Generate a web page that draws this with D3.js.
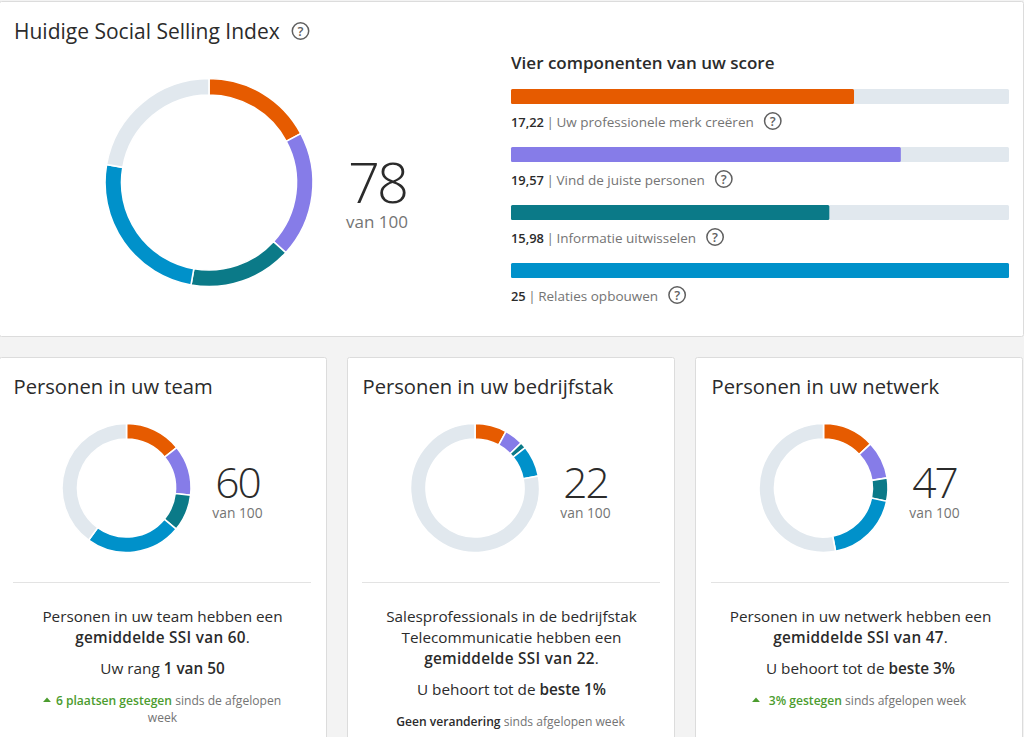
<!DOCTYPE html>
<html><head><meta charset="utf-8">
<script src="https://cdnjs.cloudflare.com/ajax/libs/d3/7.8.5/d3.min.js"></script>
<style>
html,body{margin:0;padding:0;background:#f3f3f3;overflow:hidden}
svg{display:block}
text{font-family:"Open Sans","Noto Sans",sans-serif;fill:#2b2b2b}
.b{font-weight:600}
.g{fill:#747474}
.body .b{letter-spacing:.3px}
</style></head><body>
<svg id="c" width="1024" height="737"></svg>
<script>
const componentNames = ["Uw professionele merk creëren","Vind de juiste personen","Informatie uitwisselen","Relaties opbouwen"];
const componentLabels = ["17,22","19,57","15,98","25"];
const mainValues = [17.22,19.57,15.98,25];
const teamValues = [14.2,12.6,9.2,24];
const industryValues = [8,4.7,1.5,7.8];
const networkValues = [13,9.5,5.8,18.7];
const scores = [78,60,22,47];
const colors = ["#e65b00","#867ce8","#0b7a88","#0091ca"];
const restColor = "#e1e8ee";
const COMPONENT_MAX = 25, TOTAL = 100;

const svg = d3.select("#c");

function card(x,y,w,h){
  svg.append("rect").attr("x",x+.5).attr("y",y+.5).attr("width",w).attr("height",h).attr("rx",2)
    .attr("fill","#fff").attr("stroke","#dcdcdc");
}
function helpIcon(cx,cy){
  const g=svg.append("g").attr("transform",`translate(${cx},${cy})`);
  g.append("circle").attr("r",8.2).attr("fill","none").attr("stroke","#5f5f5f").attr("stroke-width",1.5);
  g.append("text").attr("text-anchor","middle").attr("y",4.6).attr("font-size",13).attr("font-weight",600)
    .style("fill","#5f5f5f").text("?");
}
function donut(cx,cy,rO,rI,vals){
  const data=[...vals.map((v,i)=>({v,c:colors[i]})),{v:TOTAL-d3.sum(vals),c:restColor}];
  const pie=d3.pie().sort(null).value(d=>d.v);
  const arc=d3.arc().outerRadius(rO).innerRadius(rI);
  svg.append("g").attr("transform",`translate(${cx},${cy})`)
    .selectAll("path").data(pie(data)).join("path")
    .attr("d",arc).attr("fill",d=>d.data.c).attr("stroke","#fff").attr("stroke-width",1.6);
}
function rich(x,y,size,parts,anchor="middle"){
  const t=svg.append("text").attr("x",x).attr("y",y).attr("font-size",size).attr("text-anchor",anchor);
  parts.forEach(p=>{
    const s=t.append("tspan").text(p[0]);
    if(p[1]) s.attr("class",p[1]);
    if(p[2]) s.style("fill",p[2]);
  });
  return t;
}
function score(cx,numY,subY,size,subSize,val,sp){
  svg.append("text").attr("x",cx).attr("y",numY).attr("text-anchor","middle").attr("font-size",size)
    .attr("font-weight",300).attr("letter-spacing",sp).text(val);
  svg.append("text").attr("x",cx).attr("y",subY).attr("text-anchor","middle").attr("font-size",subSize)
    .attr("class","g").text("van 100");
}

// Top card
card(-1,1,1024,335);
rich(14,38.5,21,[["Huidige Social Selling Index"]],"start");
helpIcon(300.5,31);
donut(209,182.5,104,87.5,mainValues);
score(377,202.5,227.5,56,17,scores[0],-3);

rich(511,69,17,[["Vier componenten van uw score","b"]],"start");
const x=d3.scaleLinear().domain([0,COMPONENT_MAX]).range([511,1009]);
const bars=d3.scaleBand().domain(componentNames).range([89,321]);
componentNames.forEach((n,i)=>{
  const y=bars(n);
  svg.append("rect").attr("x",x(0)).attr("y",y).attr("width",x(COMPONENT_MAX)-x(0)).attr("height",15).attr("rx",1.5).attr("fill",restColor);
  svg.append("rect").attr("x",x(0)).attr("y",y).attr("width",x(mainValues[i])-x(0)).attr("height",15).attr("rx",1.5).attr("fill",colors[i]);
  const t=rich(511,y+37.5,13.5,[[componentLabels[i],"b"],[" | ","g"],[n,"g"]],"start");
  t.selectAll("tspan").filter((d,j)=>j>0).attr("dx",-1);
  t.select("tspan").attr("font-size",12.9);
  helpIcon(511+t.node().getComputedTextLength()+17,y+32);
});

// Lower cards
const cards=[
 {x:-1,title:"Personen in uw team",vals:teamValues,score:scores[1],cx:126.5,sx:237.5,sep:13,
  lines:[[["Personen in uw team hebben een"]],[["gemiddelde SSI van 60","b"],["."]]],
  rank:[["Uw rang "],["1 van 50","b"]],
  note:[[["6 plaatsen gestegen","b","#4b9c2e"],[" sinds de afgelopen","g"]],[["week","g"]]],tri:47,noteX:[168.5,162.5]},
 {x:347,title:"Personen in uw bedrijfstak",vals:industryValues,score:scores[2],cx:475,sx:585.5,sep:362,
  lines:[[["Salesprofessionals in de bedrijfstak"]],[["Telecommunicatie hebben een"]],[["gemiddelde SSI van 22","b"],["."]]],
  rank:[["U behoort tot de "],["beste 1%","b"]],
  note:[[["Geen verandering","b"],[" sinds afgelopen week","g"]]],noteX:[510.5]},
 {x:695,title:"Personen in uw netwerk",vals:networkValues,score:scores[3],cx:823.5,sx:934.5,sep:711,
  lines:[[["Personen in uw netwerk hebben een"]],[["gemiddelde SSI van 47","b"],["."]]],
  rank:[["U behoort tot de "],["beste 3%","b"]],
  note:[[["3% gestegen","b","#4b9c2e"],[" sinds afgelopen week","g"]]],tri:756,noteX:[867.5]}
];
cards.forEach(c=>{
  card(c.x,357,327,400);
  rich(c.sep+.5,394,20.2,[[c.title]],"start");
  donut(c.cx,488,64.5,49,c.vals);
  score(c.sx,498,518,42.5,13.8,c.score,-2);
  svg.append("line").attr("x1",c.sep).attr("x2",c.sep+298).attr("y1",582.5).attr("y2",582.5).attr("stroke","#e3e3e3");
  const mid=c.sep+149.5;
  let y=622;
  c.lines.forEach(l=>{rich(mid,y,15.3,l).attr("class","body");y+=21;});
  y+=10;
  rich(mid,y,15.3,c.rank);
  y+=31;
  c.note.forEach((l,i)=>{rich(c.noteX[i],y,12.1,l);y+=17;});
  if(c.tri) svg.append("path").attr("d",d3.symbol(d3.symbolTriangle,22)).attr("fill","#4b9c2e")
    .attr("transform",`translate(${c.tri},${700.5}) scale(1.1,.7)`);
});
</script></body></html>
